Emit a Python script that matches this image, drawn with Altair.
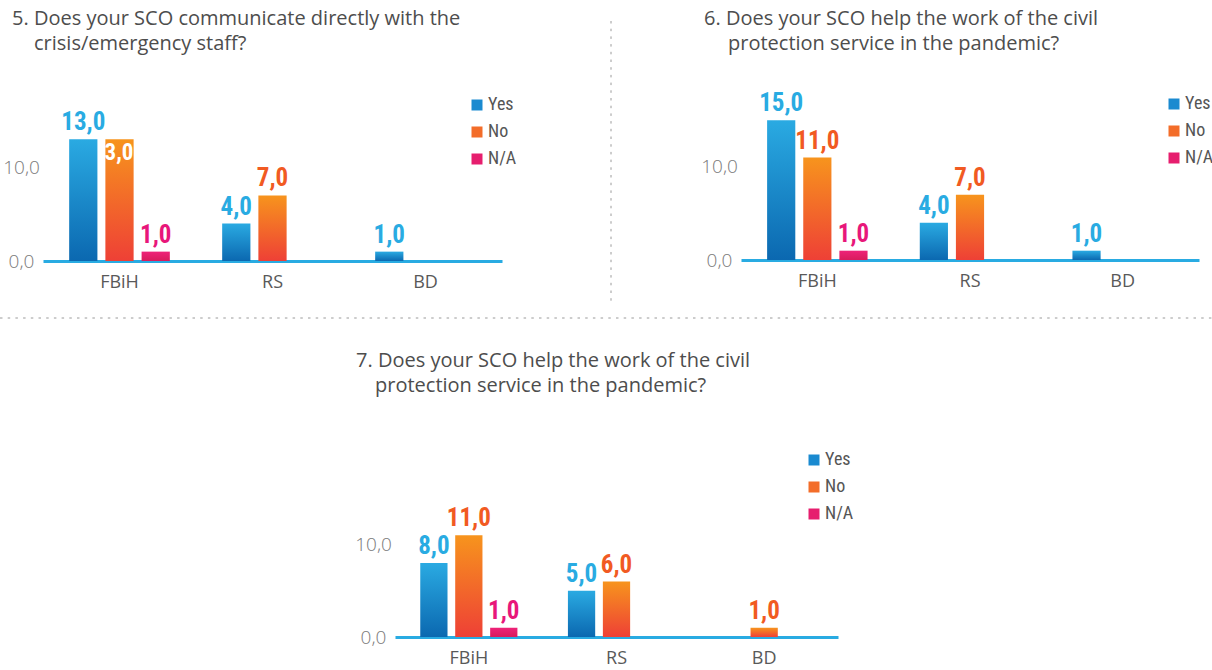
import altair as alt
import pandas as pd

# Survey answers per entity
categories = ["FBiH", "RS", "BD"]
answers = ["Yes", "No", "N/A"]

q5_yes = [13, 4, 1]
q5_no = [13, 7, 0]
q5_na = [1, 0, 0]

q6_yes = [15, 4, 1]
q6_no = [11, 7, 0]
q6_na = [1, 0, 0]

q7_yes = [8, 5, 0]
q7_no = [11, 6, 1]
q7_na = [1, 0, 0]

q5_title = ["5. Does your SCO communicate directly with the",
            "crisis/emergency staff?"]
q6_title = ["6. Does your SCO help the work of the civil",
            "protection service in the pandemic?"]
q7_title = ["7. Does your SCO help the work of the civil",
            "protection service in the pandemic?"]

# ---- styling -------------------------------------------------------------
W, H = 1212, 670
SANS = "Open Sans"
NARROW = ("'Roboto Condensed', 'Liberation Sans Narrow', 'Arial Narrow', "
          "'Noto Sans Condensed', 'DejaVu Sans Condensed', Roboto, sans-serif")
BASE_BLUE = "#29abe2"


def vgrad(top, bottom):
    return {"gradient": "linear", "x1": 0, "y1": 0, "x2": 0, "y2": 1,
            "stops": [{"offset": 0, "color": top}, {"offset": 1, "color": bottom}]}


BAR_FILL = {
    "Yes": vgrad("#2aaae2", "#0b68b0"),
    "No": vgrad("#f7941d", "#ee4036"),
    "N/A": vgrad("#ee2279", "#d81b5c"),
}
LABEL_COLOR = {"Yes": "#29abe2", "No": "#f15a22", "N/A": "#e8177a"}
LEGEND_COLOR = ["#1a8ad0", "#f36d29", "#e61e6e"]

LABEL_EXPR = "replace(format(datum.value, '.1f'), '.', ',')"


def frame(yes, no, na):
    rows = []
    for ans, vals in zip(answers, (yes, no, na)):
        for cat, v in zip(categories, vals):
            rows.append({"category": cat, "answer": ans, "value": v})
    return pd.DataFrame(rows)


def panel(df, x_range, y_range, legend_xy, inside=()):
    """One question: grouped bars on their own scales, placed by scale ranges."""
    baseline = y_range[0]
    x_enc = alt.X(
        "category:N",
        scale=alt.Scale(domain=categories, range=x_range,
                        paddingInner=0.29, paddingOuter=0.145),
        axis=alt.Axis(title=None, orient="bottom", offset=baseline - H,
                      domain=True, domainColor=BASE_BLUE, domainWidth=3,
                      ticks=False, grid=False, labelAngle=0, labelPadding=12,
                      labelFont=SANS, labelFontSize=18, labelColor="#595959"),
    )
    xo_enc = alt.XOffset(
        "answer:N",
        scale=alt.Scale(domain=answers, paddingInner=0.22, paddingOuter=0.11),
    )
    y_enc = alt.Y(
        "value:Q",
        scale=alt.Scale(domain=[0, 16], range=y_range),
        axis=alt.Axis(title=None, orient="left", offset=-x_range[0],
                      values=[0, 10], labelExpr=LABEL_EXPR,
                      domain=False, ticks=False, tickSize=0, grid=False,
                      labelAlign="center", labelBaseline="middle",
                      labelPadding=22, labelFont=SANS, labelFontSize=19,
                      labelFontWeight=300, labelColor="#7a7a7a"),
    )
    base = (alt.Chart(df)
            .transform_calculate(label=LABEL_EXPR)
            .encode(x=x_enc, xOffset=xo_enc, y=y_enc))

    inside_test = " || ".join(
        f"(datum.category === '{c}' && datum.answer === '{a}')" for c, a in inside
    ) or "false"

    def bars(ans):
        return base.transform_filter(
            f"datum.answer === '{ans}' && datum.value > 0"
        ).mark_bar(color=BAR_FILL[ans])

    def labels(ans):
        return base.transform_filter(
            f"datum.answer === '{ans}' && datum.value > 0 && !({inside_test})"
        ).mark_text(
            baseline="alphabetic", dy=-9, font=NARROW, fontSize=25,
            fontWeight="bold", color=LABEL_COLOR[ans],
        ).encode(text="label:N")

    # value written in white inside the top of its bar (drawn under the
    # neighbouring bar so only the part over its own bar shows)
    inside_labels = base.transform_filter(inside_test).mark_text(
        align="right", baseline="alphabetic", dx=14, dy=21, font=NARROW,
        fontSize=23, fontWeight="bold", color="white",
    ).encode(text="label:N")

    legend_layer = base.mark_square(opacity=0, size=1).encode(
        color=alt.Color(
            "answer:N",
            scale=alt.Scale(domain=answers, range=LEGEND_COLOR),
            legend=alt.Legend(
                orient="none", legendX=legend_xy[0], legendY=legend_xy[1],
                title=None, direction="vertical", symbolType="square",
                symbolSize=121, symbolOpacity=1, symbolStrokeWidth=0,
                labelFont=NARROW, labelFontSize=18, labelFontWeight="normal",
                labelColor="#555555", labelOffset=2, rowPadding=9, padding=0,
            ),
        )
    )

    return alt.layer(bars("No"), inside_labels, bars("Yes"), bars("N/A"),
                     labels("Yes"), labels("No"), labels("N/A"), legend_layer)


one = pd.DataFrame({"k": [0]})


def heading(lines, x1, x2, y):
    """Two-line question text; the second line is indented under the words."""
    style = dict(align="left", baseline="alphabetic", font=SANS,
                 fontSize=20, color="#4d4d4d")
    first = alt.Chart(one).mark_text(text=lines[0], **style).encode(
        x=alt.value(x1), y=alt.value(y))
    second = alt.Chart(one).mark_text(text=lines[1], **style).encode(
        x=alt.value(x2), y=alt.value(y + 25))
    return alt.layer(first, second)


# dotted separators between the three questions
SEP = dict(color="#9a9a9a", strokeDash=[2.5, 5.2], strokeWidth=1)
sep_v = alt.Chart(one).mark_rule(**SEP).encode(
    x=alt.value(611), y=alt.value(21), y2=alt.value(301))
sep_h = alt.Chart(one).mark_rule(**SEP).encode(
    x=alt.value(0), x2=alt.value(W), y=alt.value(318))

p5 = panel(frame(q5_yes, q5_no, q5_na), [43, 502], [261, 111], (468, 96),
           inside=[("FBiH", "No")])
p6 = panel(frame(q6_yes, q6_no, q6_na), [741, 1199], [260, 111], (1165, 95))
p7 = panel(frame(q7_yes, q7_no, q7_na), [395, 838], [637, 489], (805, 451))

chart = (alt.layer(
            p5, p6, p7,
            heading(q5_title, 12, 34, 25),
            heading(q6_title, 704, 728, 25),
            heading(q7_title, 356, 375, 367),
            sep_v, sep_h,
         )
         .resolve_scale(x="independent", y="independent",
                        xOffset="independent", color="independent")
         .resolve_axis(x="independent", y="independent")
         .resolve_legend(color="independent")
         .properties(width=W, height=H, background="white",
                     autosize=alt.AutoSizeParams(type="none"),
                     padding={"left": 0, "top": 0, "right": 0, "bottom": 0})
         .configure_view(stroke=None))

chart.save("out.html", embed_options={"renderer": "svg", "actions": False})
